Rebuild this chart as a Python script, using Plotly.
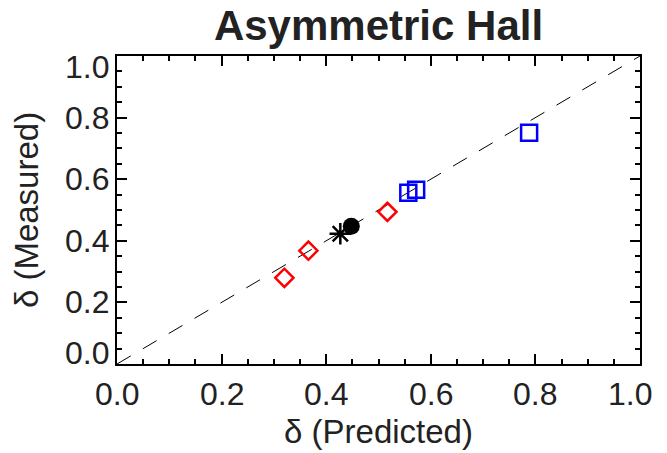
import plotly.graph_objects as go

# Data
diamond_x = [0.320, 0.366, 0.517]
diamond_y = [0.280, 0.368, 0.494]
square_x = [0.557, 0.572, 0.788]
square_y = [0.556, 0.566, 0.751]
star_x = [0.427]
star_y = [0.423]
circle_x = [0.448]
circle_y = [0.447]
line_x = [0.0, 1.0]
line_y = [0.0, 1.0]
tick_vals = [0.0, 0.2, 0.4, 0.6, 0.8, 1.0]
tick_text = ["0.0", "0.2", "0.4", "0.6", "0.8", "1.0"]

FONT = "Liberation Sans, Arial, Helvetica, sans-serif"
TXT = "#222222"

# page body has an 8px default margin; compensate in figure size/margins
W, H = 659, 445
ML, MR, MT, MB = 109, 27, 48, 89

fig = go.Figure()
fig.add_trace(go.Scatter(x=line_x, y=line_y, mode="lines",
                         line=dict(color="black", width=1, dash="16px,14px"),
                         hoverinfo="skip"))
fig.add_trace(go.Scatter(x=diamond_x, y=diamond_y, mode="markers",
                         marker=dict(symbol="diamond-open", size=14, color="#ff0000",
                                     line=dict(width=2.5, color="#ff0000"))))
fig.add_trace(go.Scatter(x=square_x, y=square_y, mode="markers",
                         marker=dict(symbol="square-open", size=16, color="#0000ff",
                                     line=dict(width=2.5, color="#0000ff"))))
fig.add_trace(go.Scatter(x=star_x, y=star_y, mode="markers",
                         marker=dict(symbol="asterisk-open", size=18, color="black",
                                     line=dict(width=2.5, color="black"))))
fig.add_trace(go.Scatter(x=circle_x, y=circle_y, mode="markers",
                         marker=dict(symbol="circle", size=17, color="black",
                                     line=dict(width=0))))

axis_common = dict(
    range=[0, 1], tickvals=tick_vals, showticklabels=False, automargin=False,
    ticks="inside", ticklen=10, tickwidth=1.5, tickcolor="black",
    showline=True, linecolor="black", linewidth=2, mirror="ticks",
    showgrid=False, zeroline=False,
    minor=dict(dtick=0.05, ticks="inside", ticklen=5, tickwidth=1.5, tickcolor="black", showgrid=False),
)

# Tick labels (IDL style: end labels pulled inward)
annotations = []
n = len(tick_vals)
for i, (v, t) in enumerate(zip(tick_vals, tick_text)):
    annotations.append(dict(
        x=v, xref="x", y=0, yref="paper", text=t, showarrow=False,
        xanchor="center", yanchor="middle", yshift=-30,
        xshift=(-10 if i == n - 1 else 0),
        font=dict(family=FONT, size=32, color=TXT)))
    annotations.append(dict(
        x=0, xref="paper", y=v, yref="y", text=t, showarrow=False,
        xanchor="right", yanchor="middle", xshift=-6,
        yshift=(11 if i == 0 else (-11 if i == n - 1 else 0)),
        font=dict(family=FONT, size=32, color=TXT)))

fig.update_layout(
    width=W, height=H,
    margin=dict(l=ML, r=MR, t=MT, b=MB),
    paper_bgcolor="white", plot_bgcolor="white",
    showlegend=False,
    annotations=annotations,
    title=dict(text="<b>Asymmetric Hall</b>", x=(ML + (W - MR)) / 2 / W, xanchor="center",
               y=1 - 17 / H, yanchor="middle",
               font=dict(family=FONT, size=42, color=TXT)),
    xaxis=dict(**axis_common,
               title=dict(text="δ (Predicted)", standoff=55,
                          font=dict(family=FONT, size=33, color=TXT))),
    yaxis=dict(**axis_common,
               title=dict(text="δ (Measured)", standoff=67,
                          font=dict(family=FONT, size=33, color=TXT))),
)

fig.write_html("out.html")
